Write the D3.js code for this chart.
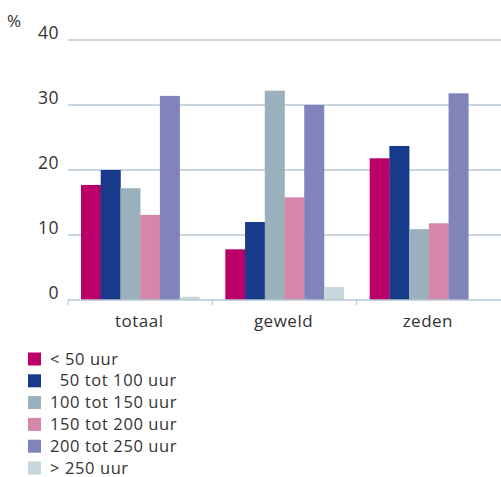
<!DOCTYPE html>
<html><head><meta charset="utf-8">
<script src="https://cdn.jsdelivr.net/npm/d3@7"></script>
<style>body{margin:0;background:#fff}svg{display:block}text{font-family:"Open Sans",Lato,sans-serif;fill:#333}</style>
</head><body>
<script>
const categories = ["totaal", "geweld", "zeden"];
const seriesNames = ["< 50 uur", "  50 tot 100 uur", "100 tot 150 uur", "150 tot 200 uur", "200 tot 250 uur", "> 250 uur"];
const seriesColors = ["#bc006a", "#173a8b", "#9ab0bc", "#d587aa", "#8084ba", "#c8d6de"];
const lt50 = [17.7, 7.8, 21.8];
const s50_100 = [20.0, 12.0, 23.7];
const s100_150 = [17.2, 32.2, 10.9];
const s150_200 = [13.1, 15.8, 11.8];
const s200_250 = [31.4, 30.0, 31.8];
const gt250 = [0.5, 2.0, 0];
const yTicks = [0, 10, 20, 30, 40];

const series = [lt50, s50_100, s100_150, s150_200, s200_250, gt250];
const W = 501, H = 477;
const svg = d3.select("body").append("svg").attr("width", W).attr("height", H);

const x0 = d3.scaleBand().domain(categories).range([68, 501]).paddingInner(0).paddingOuter(0);
const x1 = d3.scaleBand().domain(d3.range(series.length)).range([13, x0.bandwidth() - 13]).padding(0);
const y = d3.scaleLinear().domain([0, 40]).range([300, 40]);

// grid
svg.append("g").selectAll("line").data(yTicks.filter(d => d > 0)).join("line")
  .attr("x1", 68).attr("x2", W).attr("y1", d => y(d)).attr("y2", d => y(d))
  .attr("stroke", "#b9c9d5").attr("stroke-width", 1.5);

// y labels
svg.append("g").selectAll("text").data(yTicks).join("text")
  .attr("x", 59).attr("y", d => y(d) - 1).attr("text-anchor", "end")
  .attr("font-size", 17.5).attr("letter-spacing", 0.5).text(d => d);
svg.append("text").attr("x", 7).attr("y", 27).attr("font-size", 17).text("%");

// bars
const g = svg.append("g");
categories.forEach((c, ci) => {
  series.forEach((s, si) => {
    if (s[ci] <= 0) return;
    g.append("rect")
      .attr("x", x0(c) + x1(si))
      .attr("y", y(s[ci]))
      .attr("width", x1.bandwidth() + 0.3)
      .attr("height", y(0) - y(s[ci]))
      .attr("fill", seriesColors[si]);
  });
});

// x axis
const xa = svg.append("g").attr("transform", "translate(0,300)");
xa.append("line").attr("x1", 68).attr("x2", W).attr("stroke", "#b9c9d5").attr("stroke-width", 1.5);
xa.selectAll("line.t").data(categories).join("line").attr("class", "t")
  .attr("x1", d => x0(d)).attr("x2", d => x0(d)).attr("y1", 0).attr("y2", 5)
  .attr("stroke", "#b9c9d5").attr("stroke-width", 1.2);
xa.selectAll("text").data(categories).join("text")
  .attr("x", d => x0(d) + x0.bandwidth() / 2 - 1).attr("y", 27)
  .attr("text-anchor", "middle").attr("font-size", 17).attr("letter-spacing", 0.5).text(d => d);

// legend
const lg = svg.append("g");
seriesNames.forEach((n, i) => {
  const yy = 359 + i * 21.8;
  lg.append("rect").attr("x", 28).attr("y", yy - 6.5).attr("width", 13).attr("height", 13).attr("fill", seriesColors[i]);
  lg.append("text").attr("x", 50).attr("y", yy + 5.5).attr("font-size", 16.5).attr("letter-spacing", 0.6)
    .attr("xml:space", "preserve").style("white-space", "pre").text(n);
});
</script>
</body></html>
